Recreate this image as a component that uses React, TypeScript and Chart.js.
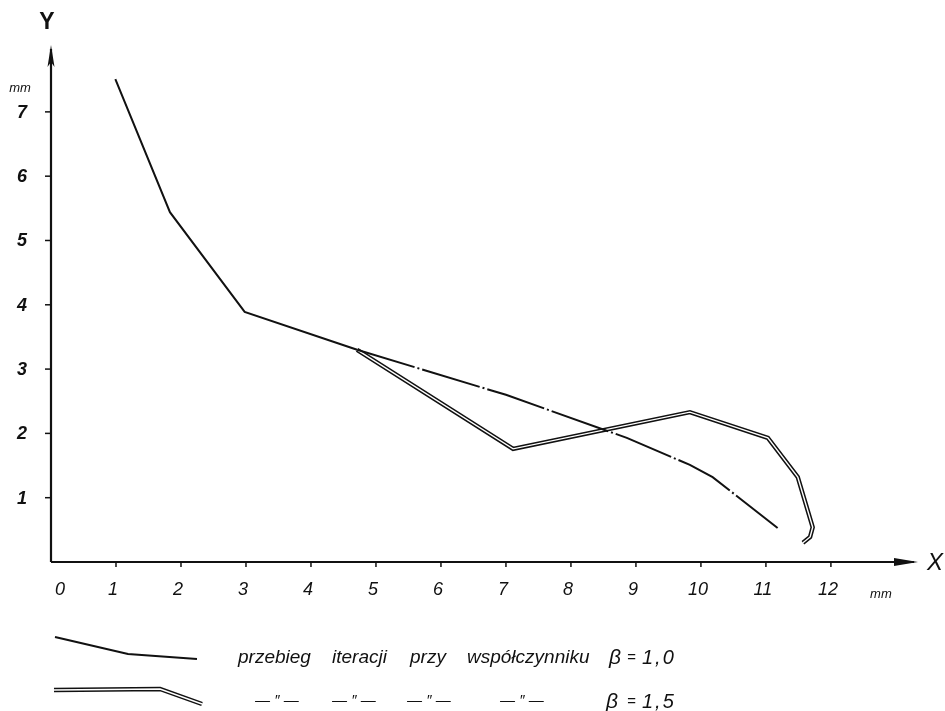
import React, { useEffect, useRef } from "react";
import { Chart, registerables } from "chart.js";

Chart.register(...registerables);

// Axis tick labels
const xTicks = [0, 1, 2, 3, 4, 5, 6, 7, 8, 9, 10, 11, 12];
const yTicks = [1, 2, 3, 4, 5, 6, 7];

// β = 1,0 iteration path
const beta10X = [0.99, 1.83, 2.98, 4.71, 7.0, 8.86, 9.83, 10.18, 11.18];
const beta10Y = [7.51, 5.44, 3.89, 3.3, 2.6, 1.93, 1.51, 1.32, 0.53];

// β = 1,5 iteration path
const beta15X = [4.71, 7.11, 9.83, 11.03, 11.49, 11.72, 11.68, 11.57];
const beta15Y = [3.3, 1.76, 2.33, 1.93, 1.32, 0.54, 0.39, 0.3];

const legendLabels = ["przebieg", "iteracji", "przy", "współczynniku"];
const betaValues = ["1,0", "1,5"];

const FONT = "'Liberation Sans', 'DejaVu Sans', sans-serif";

const toPoints = (xs: number[], ys: number[]) => xs.map((x, i) => ({ x, y: ys[i] }));

const axesPlugin = {
  id: "axesPlugin",
  afterDraw(chart: any) {
    const ctx = chart.ctx as CanvasRenderingContext2D;
    const xs = chart.scales.x;
    const ys = chart.scales.y;
    const x0 = xs.getPixelForValue(0);
    const y0 = ys.getPixelForValue(0);
    const xEnd = xs.getPixelForValue(xs.max);
    const yEnd = ys.getPixelForValue(ys.max);
    ctx.save();
    ctx.strokeStyle = "#111";
    ctx.fillStyle = "#111";
    ctx.lineWidth = 2.2;
    // X axis
    ctx.beginPath();
    ctx.moveTo(x0, y0);
    ctx.lineTo(xEnd - 4, y0);
    ctx.stroke();
    ctx.beginPath();
    ctx.moveTo(xEnd, y0);
    ctx.lineTo(xEnd - 24, y0 - 4);
    ctx.lineTo(xEnd - 24, y0 + 4);
    ctx.closePath();
    ctx.fill();
    // Y axis
    ctx.beginPath();
    ctx.moveTo(x0, y0);
    ctx.lineTo(x0, yEnd + 4);
    ctx.stroke();
    ctx.beginPath();
    ctx.moveTo(x0, yEnd);
    ctx.lineTo(x0 - 3.5, yEnd + 22);
    ctx.lineTo(x0, yEnd + 17);
    ctx.lineTo(x0 + 3.5, yEnd + 22);
    ctx.closePath();
    ctx.fill();
    // ticks
    ctx.lineWidth = 1.5;
    xTicks.forEach((v) => {
      if (v === 0) return;
      const px = xs.getPixelForValue(v);
      ctx.beginPath();
      ctx.moveTo(px, y0);
      ctx.lineTo(px, y0 + 5);
      ctx.stroke();
    });
    yTicks.forEach((v) => {
      const py = ys.getPixelForValue(v);
      ctx.beginPath();
      ctx.moveTo(x0, py);
      ctx.lineTo(x0 - 6, py);
      ctx.stroke();
    });
    // tick labels
    ctx.textAlign = "center";
    ctx.textBaseline = "middle";
    ctx.font = `italic 500 18px ${FONT}`;
    xTicks.forEach((v) => {
      const px = xs.getPixelForValue(v);
      ctx.fillText(String(v), v === 0 ? px + 9 : px - 3, y0 + 28);
    });
    ctx.font = `italic bold 18px ${FONT}`;
    yTicks.forEach((v) => {
      const py = ys.getPixelForValue(v);
      ctx.fillText(String(v), x0 - 29, py + 1);
    });
    // axis names & units
    ctx.font = `bold 23px ${FONT}`;
    ctx.fillText("Y", x0 - 4, yEnd - 22);
    ctx.font = `italic 24px ${FONT}`;
    ctx.fillText("X", xEnd + 17, y0 + 1);
    ctx.font = `italic 13px ${FONT}`;
    ctx.fillText("mm", x0 - 31, yEnd + 43);
    ctx.fillText("mm", xs.getPixelForValue(12) + 50, y0 + 32);

    // legend samples
    ctx.lineJoin = "miter";
    ctx.strokeStyle = "#111";
    ctx.lineWidth = 2.2;
    ctx.beginPath();
    ctx.moveTo(55, 637);
    ctx.lineTo(128, 654);
    ctx.lineTo(197, 659);
    ctx.stroke();
    const dbl = () => {
      ctx.beginPath();
      ctx.moveTo(54, 690);
      ctx.lineTo(160, 689);
      ctx.lineTo(202, 704);
    };
    ctx.lineWidth = 4.5;
    dbl();
    ctx.stroke();
    ctx.strokeStyle = "#fff";
    ctx.lineWidth = 1.5;
    dbl();
    ctx.stroke();

    // legend text
    ctx.fillStyle = "#111";
    ctx.textAlign = "left";
    ctx.font = `italic 19px ${FONT}`;
    const wordX = [238, 332, 410, 467];
    legendLabels.forEach((w, i) => ctx.fillText(w, wordX[i], 658));
    const rowsY = [658, 702];
    const betaX = [609, 606];
    rowsY.forEach((ry, i) => {
      (ctx as any).letterSpacing = "0px";
      ctx.font = `italic 21px ${FONT}`;
      ctx.fillText("β", betaX[i], ry);
      ctx.font = `italic 15px ${FONT}`;
      ctx.fillText("=", 627, ry);
      ctx.font = `italic 20px ${FONT}`;
      (ctx as any).letterSpacing = "2px";
      ctx.fillText(betaValues[i], 642, ry);
      (ctx as any).letterSpacing = "0px";
    });
    ctx.font = `italic 15px ${FONT}`;
    const dittoX = [255, 332, 407, 500];
    dittoX.forEach((x) => ctx.fillText("— \u2033 —", x, 701));
    ctx.restore();
  },
};

export default function App() {
  const ref = useRef<HTMLCanvasElement | null>(null);
  useEffect(() => {
    document.body.style.margin = "0";
    const canvas = ref.current;
    if (!canvas) return;
    const chart = new Chart(canvas, {
      type: "line",
      data: {
        datasets: [
          {
            label: "β = 1,0",
            data: toPoints(beta10X, beta10Y),
            borderColor: "#111",
            borderWidth: 2,
            pointRadius: 0,
            tension: 0,
            order: 0,
            segment: {
              borderDash: (c: any) => (c.p0DataIndex >= 3 ? [60, 3, 2, 3] : undefined),
            },
          } as any,
          {
            label: "β = 1,5 inner",
            data: toPoints(beta15X, beta15Y),
            borderColor: "#fff",
            borderWidth: 1.4,
            pointRadius: 0,
            tension: 0,
            order: 1,
            borderJoinStyle: "miter",
          },
          {
            label: "β = 1,5",
            data: toPoints(beta15X, beta15Y),
            borderColor: "#111",
            borderWidth: 4.4,
            pointRadius: 0,
            tension: 0,
            order: 2,
            borderJoinStyle: "miter",
          },
        ],
      },
      options: {
        animation: false,
        responsive: false,
        maintainAspectRatio: false,
        layout: { padding: { left: 51, right: 27, top: 45, bottom: 149 } },
        scales: {
          x: { type: "linear", min: 0, max: 13.34, display: false },
          y: { type: "linear", min: 0, max: 8.04, display: false },
        },
        plugins: { legend: { display: false }, tooltip: { enabled: false } },
        elements: { line: { fill: false } },
      },
      plugins: [axesPlugin],
    });
    return () => chart.destroy();
  }, []);
  return (
    <div style={{ width: 945, height: 711, background: "#fff" }}>
      <canvas ref={ref} width={945} height={711} style={{ display: "block" }} />
    </div>
  );
}
